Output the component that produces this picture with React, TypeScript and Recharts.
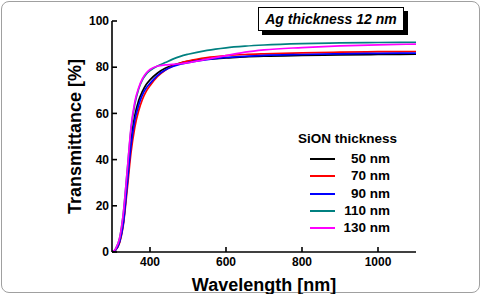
import { LineChart, Line, XAxis, YAxis } from "recharts";

// wavelength grid (nm)
const wavelengths = [
  300, 310, 320, 330, 340, 350, 360, 370, 380, 390, 400, 420, 440, 460, 480,
  500, 550, 600, 650, 700, 800, 900, 1000, 1100
];

// transmittance (%) for each SiON thickness
const t50 = [
  0, 1, 4.5, 13, 30, 48, 59, 65.5, 69.5, 72.5, 74.5, 77.5, 79.5, 80.8, 81.8,
  82.5, 83.5, 84, 84.5, 84.8, 85.1, 85.3, 85.5, 85.6
];
const t70 = [
  0, 1, 4, 12, 27, 43, 54, 61, 66, 69.5, 72, 76, 78.7, 80.5, 81.8, 82.7, 84.2,
  85, 85.5, 85.8, 86.2, 86.5, 86.7, 86.8
];
const t90 = [
  0, 1, 4.3, 12.5, 29, 46, 57, 63.5, 68, 71, 73, 76.5, 78.8, 80.3, 81.3, 82,
  83.3, 84.2, 84.7, 85.1, 85.5, 85.8, 86, 86.1
];
const t110 = [
  0, 1.5, 6, 17, 35, 53, 64, 70.5, 74.5, 77, 78.5, 80.5, 82, 83.5, 84.7, 85.6,
  87.3, 88.4, 89.1, 89.6, 90.2, 90.5, 90.7, 90.8
];
const t130 = [
  0, 1.5, 6, 17, 35, 54, 65, 71, 75, 77.5, 79, 80.5, 81, 81.2, 81.5, 82, 83.5,
  85, 86.5, 87.5, 88.5, 89.2, 89.7, 90
];

const seriesNames = ["50 nm", "70 nm", "90 nm", "110 nm", "130 nm"];
const seriesColors = ["#000000", "#ff0000", "#0000ff", "#008080", "#ff00ff"];
const seriesValues = [t50, t70, t90, t110, t130];

const xMajor = [400, 600, 800, 1000];
const xMinor = [300, 500, 700, 900, 1100];
const yMajor = [0, 20, 40, 60, 80, 100];
const yMinor = [10, 30, 50, 70, 90];

const data = wavelengths.map((w, i) => {
  const row: Record<string, number> = { w };
  seriesValues.forEach((vals, k) => {
    row["s" + k] = vals[i];
  });
  return row;
});

const FONT = "'Liberation Sans', Arial, sans-serif";
const tickStyle = { fontSize: 12, fontWeight: 700, fill: "#000", fontFamily: FONT };

function LegendBox() {
  return (
    <div
      style={{
        position: "absolute",
        left: 298,
        top: 128,
        width: 104,
        fontFamily: FONT,
        fontWeight: 700,
        fontSize: 13.5,
        color: "#000"
      }}
    >
      <div style={{ height: 22, lineHeight: "22px", whiteSpace: "nowrap" }}>SiON thickness</div>
      {seriesNames.map((name, i) => (
        <div
          key={name}
          style={{ position: "relative", height: 17.3, lineHeight: "17.3px" }}
        >
          <div
            style={{
              position: "absolute",
              left: 12,
              top: 8,
              width: 25,
              height: 2,
              background: seriesColors[i]
            }}
          />
          <div style={{ position: "absolute", right: 12, top: 0 }}>{name}</div>
        </div>
      ))}
    </div>
  );
}

export default function App() {
  return (
    <div
      style={{
        position: "absolute",
        left: 0,
        top: 0,
        width: 481,
        height: 294,
        background: "#fff"
      }}
    >
      <div
        style={{
          position: "absolute",
          left: 1,
          top: 1,
          width: 477,
          height: 290,
          border: "1px solid #a0a0a0",
          borderRadius: 8
        }}
      />
      <LineChart
        width={481}
        height={294}
        data={data}
        margin={{ top: 21, right: 65, bottom: 0, left: 72 }}
      >
        <XAxis
          xAxisId="main"
          dataKey="w"
          type="number"
          domain={[300, 1100]}
          ticks={xMajor}
          allowDataOverflow
          stroke="#000"
          strokeWidth={1.6}
          tickSize={-5}
          tickMargin={10}
          tick={tickStyle}
          height={42}
          label={{
            value: "Wavelength [nm]",
            position: "insideBottom",
            offset: 3,
            style: { fontSize: 18, fontWeight: 700, fill: "#000", fontFamily: FONT }
          }}
        />
        <XAxis
          xAxisId="minor"
          dataKey="w"
          type="number"
          domain={[300, 1100]}
          ticks={xMinor}
          axisLine={false}
          stroke="#000"
          strokeWidth={1.4}
          tickSize={-3}
          tick={false}
          height={0}
        />
        <XAxis
          xAxisId="top"
          orientation="top"
          dataKey="w"
          type="number"
          domain={[300, 1100]}
          stroke="#000"
          strokeWidth={1.6}
          tick={false}
          tickLine={false}
          height={0}
        />
        <YAxis
          yAxisId="main"
          type="number"
          domain={[0, 100]}
          ticks={yMajor}
          stroke="#000"
          strokeWidth={1.6}
          tickSize={-5}
          tickMargin={8}
          tick={tickStyle}
          width={40}
          label={{
            value: "Transmittance [%]",
            angle: -90,
            position: "insideLeft",
            offset: 3,
            style: {
              fontSize: 18,
              fontWeight: 700,
              fill: "#000",
              fontFamily: FONT,
              textAnchor: "middle"
            }
          }}
        />
        <YAxis
          yAxisId="minor"
          type="number"
          domain={[0, 100]}
          ticks={yMinor}
          axisLine={false}
          stroke="#000"
          strokeWidth={1.4}
          tickSize={-3}
          tick={false}
          width={0}
        />
        <YAxis
          yAxisId="right"
          orientation="right"
          type="number"
          domain={[0, 100]}
          stroke="#000"
          strokeWidth={1.6}
          tick={false}
          tickLine={false}
          width={0}
        />
        {seriesNames.map((name, k) => (
          <Line
            key={name}
            xAxisId="main"
            yAxisId="main"
            type="monotone"
            dataKey={"s" + k}
            name={name}
            stroke={seriesColors[k]}
            strokeWidth={1.7}
            dot={false}
            isAnimationActive={false}
          />
        ))}
      </LineChart>
      <LegendBox />
      <div
        style={{
          position: "absolute",
          left: 258,
          top: 7,
          width: 144,
          height: 22,
          border: "1px solid #000",
          boxShadow: "4px 4px 0 #000",
          background: "#fff",
          fontFamily: FONT,
          fontWeight: 700,
          fontStyle: "italic",
          fontSize: 14,
          lineHeight: "22px",
          textAlign: "center",
          color: "#000"
        }}
      >
        Ag thickness 12 nm
      </div>
    </div>
  );
}
